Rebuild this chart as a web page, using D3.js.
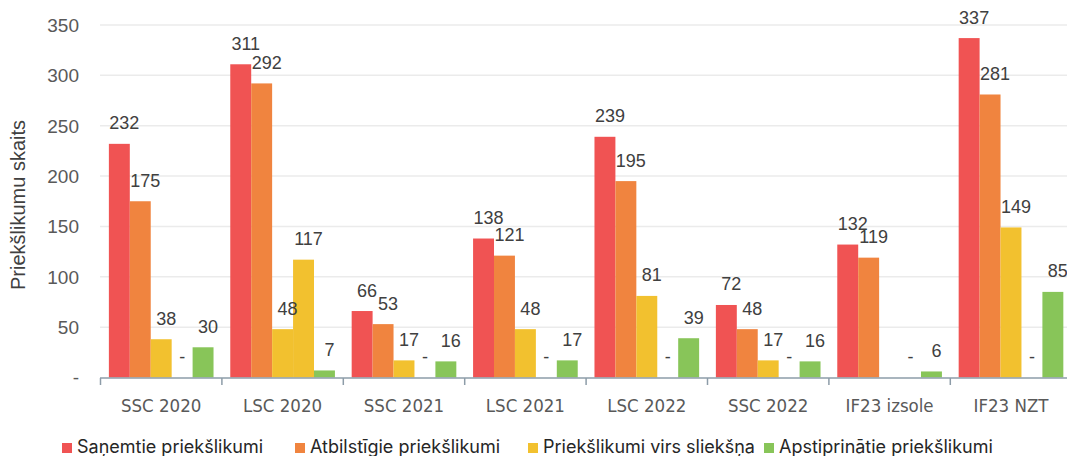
<!DOCTYPE html>
<html><head><meta charset="utf-8">
<script src="https://cdn.jsdelivr.net/npm/d3@7"></script>
<style>body{margin:0;background:#fff}svg{display:block}</style>
</head><body>
<svg id="c" width="1067" height="456"></svg>
<script>
const categories = ["SSC 2020","LSC 2020","SSC 2021","LSC 2021","LSC 2022","SSC 2022","IF23 izsole","IF23 NZT"];
const seriesNames = ["Saņemtie priekšlikumi","Atbilstīgie priekšlikumi","Priekšlikumi virs sliekšņa","","Apstiprinātie priekšlikumi"];
const received  = [232, 311, 66, 138, 239, 72, 132, 337];
const eligible  = [175, 292, 53, 121, 195, 48, 119, 281];
const threshold = [38, 48, 17, 48, 81, 17, null, 149];
const threshold2= [0, 117, 0, 0, 0, 0, 0, 0];
const approved  = [30, 7, 16, 17, 39, 16, 6, 85];
const yTicks = [0, 50, 100, 150, 200, 250, 300, 350];
const colors = ["#F05353","#F0843F","#F2C12F","#F2C12F","#88C559"];
const legendIdx = [0,1,2,4];

const series = [received, eligible, threshold, threshold2, approved];
const svg = d3.select("#c");
const x0 = d3.scaleBand().domain(categories).range([100.5, 1071.7]).padding(0);
const x1 = d3.scaleBand().domain(d3.range(series.length)).range([0, x0.bandwidth()]).paddingInner(0).paddingOuter(0.4);
const y = d3.scaleLinear().domain([0, 350]).range([377.5, 25]);
const fmt = v => v === 0 ? "-" : String(v);

// gridlines
svg.append("g").selectAll("line").data(yTicks.filter(d=>d>0)).join("line")
  .attr("x1", 100).attr("x2", 1067).attr("y1", d=>y(d)).attr("y2", d=>y(d))
  .attr("stroke", "#ebebeb").attr("stroke-width", 1.5);

// y tick labels
svg.append("g").selectAll("text").data(yTicks).join("text")
  .attr("x", 79).attr("y", d=>y(d)).attr("dy", "0.36em")
  .attr("text-anchor", "end").attr("font-family", "Liberation Sans, Arial, sans-serif")
  .attr("font-size", 19).attr("fill", "#595959").text(fmt);

// y title
svg.append("text").attr("transform", "translate(25,205) rotate(-90)")
  .attr("text-anchor", "middle").attr("font-family", "Liberation Sans, Arial, sans-serif")
  .attr("font-size", 20).attr("fill", "#404040").text("Priekšlikumu skaits");

// bars
const g = svg.append("g").selectAll("g").data(categories).join("g")
  .attr("transform", d => `translate(${x0(d)},0)`);
g.selectAll("rect").data((c,i)=>series.map((s,k)=>({k, v:s[i]}))).join("rect")
  .filter(d => d.v != null && d.v > 0)
  .attr("x", d=>x1(d.k)).attr("width", x1.bandwidth())
  .attr("y", d=>y(d.v)).attr("height", d=>y(0)-y(d.v))
  .attr("fill", d=>colors[d.k]);
g.selectAll("text.lbl").data((c,i)=>series.map((s,k)=>({k, v:s[i]})).filter(d=>d.v!=null)).join("text")
  .attr("class","lbl")
  .attr("x", d=>x1(d.k)+x1.bandwidth()/2 + (d.v===0?0:5))
  .attr("y", d=>y(d.v)-14.5)
  .attr("text-anchor","middle").attr("font-family","Liberation Sans, Arial, sans-serif")
  .attr("font-size", 18).attr("fill", "#404040").text(d=>fmt(d.v));

// x axis
const xa = svg.append("g");
xa.append("line").attr("x1",100).attr("x2",1067).attr("y1",378).attr("y2",378)
  .attr("stroke","#8D9CA8").attr("stroke-width",1.5);
xa.selectAll("line.t").data(categories).join("line").attr("class","t")
  .attr("x1",d=>x0(d)).attr("x2",d=>x0(d)).attr("y1",378).attr("y2",385)
  .attr("stroke","#8D9CA8").attr("stroke-width",1.5);
xa.selectAll("text").data(categories).join("text")
  .attr("x", d=>x0(d)+x0.bandwidth()/2).attr("y", 412)
  .attr("text-anchor","middle").attr("font-family","DejaVu Sans Condensed, DejaVu Sans, sans-serif")
  .attr("font-stretch","condensed")
  .attr("font-size", 18.5).attr("fill","#595959").text(d=>d);

// legend
const legX = [62, 295, 528, 764];
const lg = svg.append("g").selectAll("g").data(legendIdx).join("g")
  .attr("transform",(d,i)=>`translate(${legX[i]},0)`);
lg.append("rect").attr("x",0).attr("y",443).attr("width",10).attr("height",10).attr("fill",d=>colors[d]);
lg.append("text").attr("x",15).attr("y",453).attr("font-family","Inter, sans-serif")
  .attr("font-size",18).attr("fill","#262626").text(d=>seriesNames[d]);
</script>
</body></html>
